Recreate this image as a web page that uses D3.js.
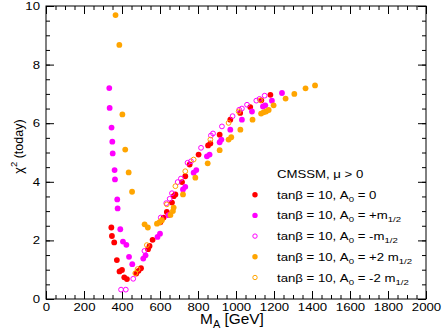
<!DOCTYPE html>
<html>
<head>
<meta charset="utf-8">
<script src="https://cdn.jsdelivr.net/npm/d3@7"></script>
<style>
  body { margin: 0; background: #fff; }
  svg text { font-family: "Liberation Sans", Arial, Helvetica, sans-serif; fill: #000; }
</style>
</head>
<body>
<div id="chart"></div>
<script>
// [M_A (GeV), chi^2] per series
const a0Zero = [[344,2.44],[347,2.15],[359,1.93],[373,1.33],[387,0.94],[400,0.99],[412,0.74],[426,0.68],
    [475,0.87],[487,0.96],[500,1.05],[537,1.70],[545,1.81],[561,2.02],[602,2.62],[619,2.78],[636,2.97],
    [663,3.29],[672,3.51],[681,3.57],[716,3.99],[733,4.19],[756,4.59],[803,4.93],[853,5.24],[865,5.31],
    [914,5.61],[970,6.12],[1022,6.35],[1075,6.55],[1133,6.78],[1181,6.97]];
const a0PlusM = [[333,7.20],[335,6.52],[345,5.85],[349,5.37],[351,4.97],[361,4.40],[363,4.08],[375,3.40],
    [377,3.09],[391,2.38],[405,1.96],[423,1.85],[437,1.44],[454,1.19],[512,1.38],[524,1.49],[587,2.12],
    [600,2.23],[645,2.86],[721,3.74],[733,3.83],[777,4.31],[791,4.40],[847,4.87],[861,4.93],[914,5.35],
    [923,5.44],[970,5.78],[1031,6.12],[1084,6.40],[1142,6.57],[1154,6.61],[1189,6.77],[1242,7.03]];
const a0MinusM = [[395,0.32],[420,0.32],[459,0.69],[518,1.64],[604,2.78],[633,3.27],[651,3.42],[663,3.61],
    [693,3.99],[710,4.11],[745,4.65],[763,4.70],[816,5.16],[868,5.58],[879,5.65],[926,5.89],[982,6.24],
    [1017,6.46],[1031,6.50],[1058,6.63],[1107,6.77],[1124,6.83],[1151,6.94]];
const a0Plus2M = [[366,9.69],[386,8.67],[402,6.30],[417,5.10],[435,4.32],[453,3.66],[519,2.55],[536,2.44],
    [584,2.57],[598,2.62],[610,2.69],[655,2.87],[668,3.00],[672,3.12],[721,3.57],[786,4.14],[851,4.63],
    [914,5.08],[961,5.44],[975,5.52],[1023,5.78],[1087,6.12],[1132,6.33],[1145,6.37],[1158,6.40],[1172,6.45],
    [1198,6.61],[1261,6.84],[1307,7.00],[1366,7.19],[1416,7.29]];
const a0Minus2M = [[470,0.88],[482,1.02],[531,1.84],[636,3.23],[681,3.85],[733,4.36],[777,4.76],[865,5.44],
    [961,6.01],[1014,6.40],[1128,6.78]];

const xTicks = [0, 200, 400, 600, 800, 1000, 1200, 1400, 1600, 1800, 2000];
const yTicks = [0, 2, 4, 6, 8, 10];

const series = [
    {data: a0Zero,    color: "#ff0000", filled: true,  label: ["tanβ = 10, A", "0", " = 0", null]},
    {data: a0PlusM,   color: "#ff00ff", filled: true,  label: ["tanβ = 10, A", "0", " = +m", "1/2"]},
    {data: a0MinusM,  color: "#ff00ff", filled: false, label: ["tanβ = 10, A", "0", " = -m", "1/2"]},
    {data: a0Plus2M,  color: "#ffa500", filled: true,  label: ["tanβ = 10, A", "0", " = +2 m", "1/2"]},
    {data: a0Minus2M, color: "#ffa500", filled: false, label: ["tanβ = 10, A", "0", " = -2 m", "1/2"]}
];

const W = 442, H = 333;
const margin = {top: 6, right: 16, bottom: 34, left: 46};
const width = W - margin.left - margin.right;
const height = H - margin.top - margin.bottom;
const stretchK = 1.2; // the source text is a bit wide

const svg = d3.select("#chart").append("svg")
    .attr("width", W).attr("height", H)
  .append("g")
    .attr("transform", "translate(" + margin.left + "," + margin.top + ")");

const x = d3.scaleLinear().domain([0, 2000]).range([0, width]);
const y = d3.scaleLinear().domain([0, 10]).range([height, 0]);

function stretch(sel, k) {
    sel.each(function() {
        const w = this.getComputedTextLength();
        d3.select(this).attr("textLength", w * k).attr("lengthAdjust", "spacingAndGlyphs");
    });
}

// frame with inward ticks on all four sides
function addAxis(axis, tr, labels) {
    const g = svg.append("g").attr("transform", tr).call(axis);
    g.select(".domain").remove();
    g.selectAll("line").attr("stroke", "#000");
    if (!labels) g.selectAll("text").remove();
    return g;
}
const xMinor = d3.range(0, 2001, 50), yMinor = d3.range(0, 10.01, 0.5);

const xb = addAxis(d3.axisBottom(x).tickValues(xTicks).tickSize(-8).tickPadding(4).tickFormat(d3.format("d")), "translate(0," + height + ")", true);
addAxis(d3.axisBottom(x).tickValues(xMinor).tickSize(-4), "translate(0," + height + ")");
addAxis(d3.axisTop(x).tickValues(xTicks).tickSize(-8), "translate(0,0)");
addAxis(d3.axisTop(x).tickValues(xMinor).tickSize(-4), "translate(0,0)");
const yl = addAxis(d3.axisLeft(y).tickValues(yTicks).tickSize(-8).tickPadding(6), "translate(0,0)", true);
addAxis(d3.axisLeft(y).tickValues(yMinor).tickSize(-4), "translate(0,0)");
addAxis(d3.axisRight(y).tickValues(yTicks).tickSize(-8), "translate(" + width + ",0)");
addAxis(d3.axisRight(y).tickValues(yMinor).tickSize(-4), "translate(" + width + ",0)");

xb.selectAll("text").style("font-size", "11px").call(stretch, stretchK);
yl.selectAll("text").style("font-size", "11px").call(stretch, stretchK);

svg.append("rect")
    .attr("width", width).attr("height", height)
    .attr("fill", "none").attr("stroke", "#000").attr("stroke-width", 1);

// points
series.forEach(s => {
    svg.append("g").selectAll("circle")
        .data(s.data)
        .enter().append("circle")
        .attr("cx", d => x(d[0]))
        .attr("cy", d => y(d[1]))
        .attr("r", s.filled ? 2.9 : 2.4)
        .attr("fill", s.filled ? s.color : "none")
        .attr("stroke", s.color)
        .attr("stroke-width", s.filled ? 0 : 1);
});

// axis titles
const xt = svg.append("g")
    .attr("transform", "translate(" + (width / 2 - 4) + "," + (height + 25) + ") scale(1.1,1)")
  .append("text")
    .attr("text-anchor", "middle").style("font-size", "14px");
xt.append("tspan").text("M");
xt.append("tspan").text("A").attr("dy", 4).style("font-size", "10px");
xt.append("tspan").text(" [GeV]").attr("dy", -4);

const yt = svg.append("text")
    .attr("transform", "translate(-23," + (height / 2 - 6) + ") rotate(-90)")
    .attr("text-anchor", "middle").style("font-size", "12.5px");
yt.append("tspan").text("χ");
yt.append("tspan").text("2").attr("dy", -6).style("font-size", "9.5px");
yt.append("tspan").text(" (today)").attr("dy", 6);

// legend
const lx = 231, ly = 172, step = 20.7;
svg.append("g")
    .attr("transform", "translate(" + lx + "," + ly + ") scale(" + stretchK + ",1)")
  .append("text")
    .style("font-size", "11px")
    .text("CMSSM, μ > 0");

const legend = svg.selectAll(".legend")
    .data(series)
    .enter().append("g")
    .attr("class", "legend")
    .attr("transform", (d, i) => "translate(0," + (ly + (i + 1) * step) + ")");
legend.append("circle")
    .attr("cx", lx - 22).attr("cy", -4)
    .attr("r", d => d.filled ? 2.7 : 2.2)
    .attr("fill", d => d.filled ? d.color : "none")
    .attr("stroke", d => d.color)
    .attr("stroke-width", d => d.filled ? 0 : 1);
legend.each(function(d) {
    const t = d3.select(this).append("g")
        .attr("transform", "translate(" + lx + ",0) scale(" + stretchK + ",1)")
      .append("text")
        .style("font-size", "11px");
    t.append("tspan").text(d.label[0]);
    t.append("tspan").text(d.label[1]).attr("dy", 3).style("font-size", "8px");
    t.append("tspan").text(d.label[2]).attr("dy", -3);
    if (d.label[3]) {
        t.append("tspan").text(d.label[3]).attr("dy", 3).style("font-size", "8px");
    }
});
</script>
</body>
</html>
